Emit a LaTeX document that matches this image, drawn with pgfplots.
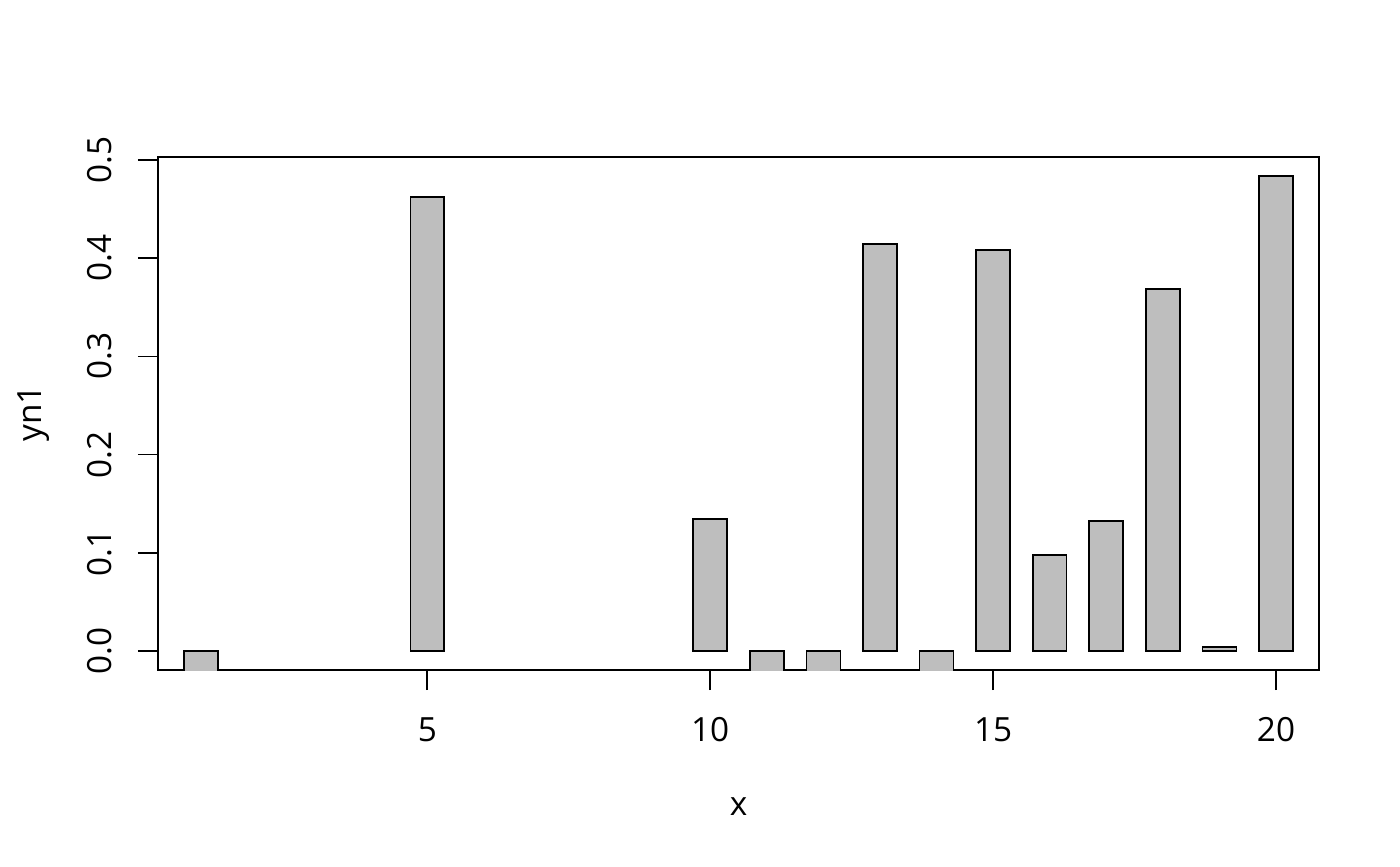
\documentclass[border=0pt]{standalone}
\usepackage{fontspec}
\setmainfont{Open Sans}
\usepackage{pgfplots}
\pgfplotsset{compat=1.18}

% 1 px of the reference = 0.36pt (1400 x 866 px -> 504pt x 311.76pt)
\begin{document}
\begin{tikzpicture}[font=\fontsize{12}{14.4}\selectfont]
\path (0,0) rectangle (504pt,311.76pt);
\begin{axis}[
  at={(56.88pt,70.56pt)}, anchor=south west,
  scale only axis,
  width=417.96pt, height=184.68pt,
  xmin=0.24, xmax=20.76,
  ymin=-0.01935, ymax=0.50305,
  xtick={5,10,15,20},
  ytick={0,0.1,0.2,0.3,0.4,0.5},
  xtick pos=left, ytick pos=left,
  tick align=outside,
  major tick length=7.2pt,
  every tick/.style={black, line width=0.6pt},
  axis line style={line width=0.6pt},
  /pgf/number format/assume math mode=true,
  yticklabel={\pgfmathprintnumber[fixed,fixed zerofill,precision=1]{\tick}},
  xticklabel style={anchor=base, inner sep=0pt, yshift=-18.4pt},
  yticklabel style={rotate=90, anchor=base, inner sep=0pt, yshift=9.7pt},
  xlabel={x}, ylabel={yn1},
  xlabel style={at={(axis description cs:0.5,0)}, anchor=base, inner sep=0pt, yshift=-52.2pt},
  ylabel style={at={([xshift=-41.9pt]axis description cs:0,0.5)}, anchor=base, inner sep=0pt},
]
\addplot[ybar, bar width=0.6, fill={rgb,255:red,190;green,190;blue,190}, draw=black, line width=0.6pt]
coordinates {
  (1, -0.05)
  (5, 0.4623)
  (10, 0.1344)
  (11, -0.05)
  (12, -0.05)
  (13, 0.4145)
  (14, -0.05)
  (15, 0.4084)
  (16, 0.0978)
  (17, 0.1324)
  (18, 0.3686)
  (19, 0.0038)
  (20, 0.4837)
};
\end{axis}
\end{tikzpicture}
\end{document}
